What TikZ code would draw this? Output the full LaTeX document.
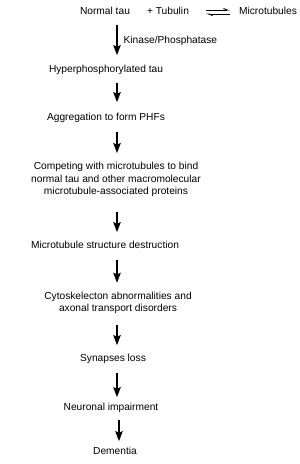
\documentclass[tikz,border=0pt]{standalone}
\usepackage{fontspec}
\setmainfont{Liberation Sans}
\usetikzlibrary{arrows.meta}

\begin{document}
\begin{tikzpicture}[x=1pt, y=-1pt,
  every node/.style={font=\fontsize{10.2}{12.5}\selectfont, inner sep=0pt, align=center},
  line/.style={text height=7.2pt, text depth=2.1pt},
  flow/.style={-{Stealth[length=10pt,width=7.5pt,inset=1.5pt]}, line width=1.2pt,
    shorten <=8pt, shorten >=10pt},
  eq/.style={-{Straight Barb[left,length=4pt,width=3pt]}, line width=0.9pt}]
  \useasboundingbox (0,0) rectangle (300,464);
  \coordinate (ax) at (117,0);
  % top row: equilibrium
  \node[line] (tau) at (105,12) {Normal tau};
  \node[line] (tub) at (168,12) {+ Tubulin};
  \node[line] (mt) at (268,12) {Microtubules};
  \draw[eq, shorten <=17pt, shorten >=9pt] ([yshift=2pt]tub.east) -- ([yshift=2pt]mt.west);
  \draw[eq, shorten <=9pt, shorten >=17pt] ([yshift=-2pt]mt.west) -- ([yshift=-2pt]tub.east);
  % cascade
  \node[line] (hyper) at (106,70) {Hyperphosphorylated tau};
  \node[line] (agg) at (106,118) {Aggregation to form PHFs};
  \node (comp) at (116,179.5) {Competing with microtubules to bind\\
    normal tau and other macromolecular\\microtubule-associated proteins};
  \node[line] (destr) at (105,246) {Microtubule structure destruction};
  \node (cyto) at (118,303) {Cytoskelecton abnormalities and\\axonal transport disorders};
  \node[line] (syn) at (113,359) {Synapses loss};
  \node[line] (neur) at (111,408) {Neuronal impairment};
  \node[line] (dem) at (115,452) {Dementia};
  \draw[flow] (tau.south -| ax) -- (hyper.north -| ax)
    node[line, pos=0.5, anchor=west, xshift=6pt] (kin) {Kinase/Phosphatase};
  \draw[flow, shorten >=11pt] (hyper.south -| ax) -- (agg.north -| ax);
  \draw[flow, shorten <=9pt, shorten >=9pt] (agg.south -| ax) -- (comp.north -| ax);
  \draw[flow, shorten <=15pt, shorten >=9pt] (comp.south -| ax) -- (destr.north -| ax);
  \draw[flow, shorten <=9pt, shorten >=9pt] (destr.south -| ax) -- (cyto.north -| ax);
  \draw[flow, shorten <=11pt, shorten >=9pt] (cyto.south -| ax) -- (syn.north -| ax);
  \draw[flow, shorten <=9pt, shorten >=6pt] (syn.south -| ax) -- (neur.north -| ax);
  \draw[flow, shorten <=7pt, shorten >=6pt] ([xshift=2pt]neur.south -| ax) -- ([xshift=2pt]dem.north -| ax);
\end{tikzpicture}
\end{document}
